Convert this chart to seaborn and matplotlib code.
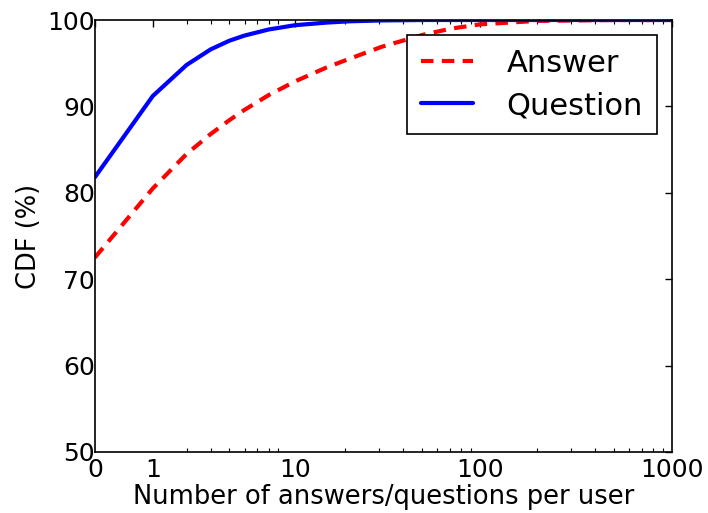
import numpy as np
import pandas as pd
import matplotlib
matplotlib.use("Agg")
import matplotlib.pyplot as plt
import seaborn as sns
from matplotlib.ticker import FixedLocator, FixedFormatter, NullFormatter

# Number of answers/questions per user and the CDF (%) at each count
counts = [0, 1, 2, 3, 4, 5, 7, 10, 15, 20, 30, 50, 70, 100, 200, 500, 1000]
answer_cdf = [72.5, 80.5, 84.5, 86.8, 88.4, 89.6, 91.3, 92.9, 94.5, 95.5,
              96.9, 98.3, 99.0, 99.5, 99.9, 100.0, 100.0]
question_cdf = [81.8, 91.2, 94.8, 96.6, 97.6, 98.2, 98.9, 99.4, 99.7, 99.85,
                99.95, 100.0, 100.0, 100.0, 100.0, 100.0, 100.0]
tick_labels = ["0", "1", "10", "100", "1000"]
tick_values = [0, 1, 10, 100, 1000]

sns.set_style("white")
plt.rcParams["font.family"] = ["DejaVu Sans"]
plt.rcParams.update({
    "text.color": "black",
    "axes.labelcolor": "black",
    "xtick.color": "black",
    "ytick.color": "black",
})

df = pd.DataFrame({
    "count": counts * 2,
    "cdf": answer_cdf + question_cdf,
    "series": ["Answer"] * len(counts) + ["Question"] * len(counts),
})
# shift by one so that zero can sit on a logarithmic axis
df["pos"] = df["count"] + 1

fig = plt.figure(figsize=(7.08, 5.13), dpi=100)
ax = fig.add_axes([0.134, 0.119, 0.815, 0.842])

sns.lineplot(data=df[df.series == "Answer"], x="pos", y="cdf", ax=ax,
             color="#ff0000", linewidth=3, dashes=(3.0, 2.0), label="Answer")
sns.lineplot(data=df[df.series == "Question"], x="pos", y="cdf", ax=ax,
             color="#0000ff", linewidth=3, linestyle="-", label="Question")

ax.set_xscale("log")
ax.set_xlim(1, 1001)
ax.set_ylim(50, 100)
ax.xaxis.set_major_locator(FixedLocator([v + 1 for v in tick_values]))
ax.xaxis.set_major_formatter(FixedFormatter(tick_labels))
minor = [m * 10 ** d for d in range(0, 3) for m in range(2, 10)]
ax.xaxis.set_minor_locator(FixedLocator(minor))
ax.xaxis.set_minor_formatter(NullFormatter())
ax.set_yticks([50, 60, 70, 80, 90, 100])

ax.tick_params(axis="both", which="both", direction="in", top=True, right=True,
               labelsize=18, color="black")
ax.tick_params(axis="x", pad=4)
ax.tick_params(axis="y", pad=0)
ax.tick_params(which="major", length=5, width=1)
ax.tick_params(axis="x", which="minor", length=3, width=0.8,
               top=True, bottom=True)
for s in ax.spines.values():
    s.set_color("black")
    s.set_linewidth(1.2)

ax.set_xlabel("Number of answers/questions per user", fontsize=18.5, labelpad=2)
ax.set_ylabel("CDF (%)", fontsize=18.5, labelpad=4)

leg = ax.legend(loc="upper right", fontsize=22, frameon=True, fancybox=False,
                edgecolor="black", handlelength=1.7, borderaxespad=0.5,
                handletextpad=1.1, borderpad=0.45, labelspacing=0.43)
leg.get_frame().set_linewidth(1.2)
leg.get_frame().set_alpha(1)

fig.savefig("out.png", dpi=100)
